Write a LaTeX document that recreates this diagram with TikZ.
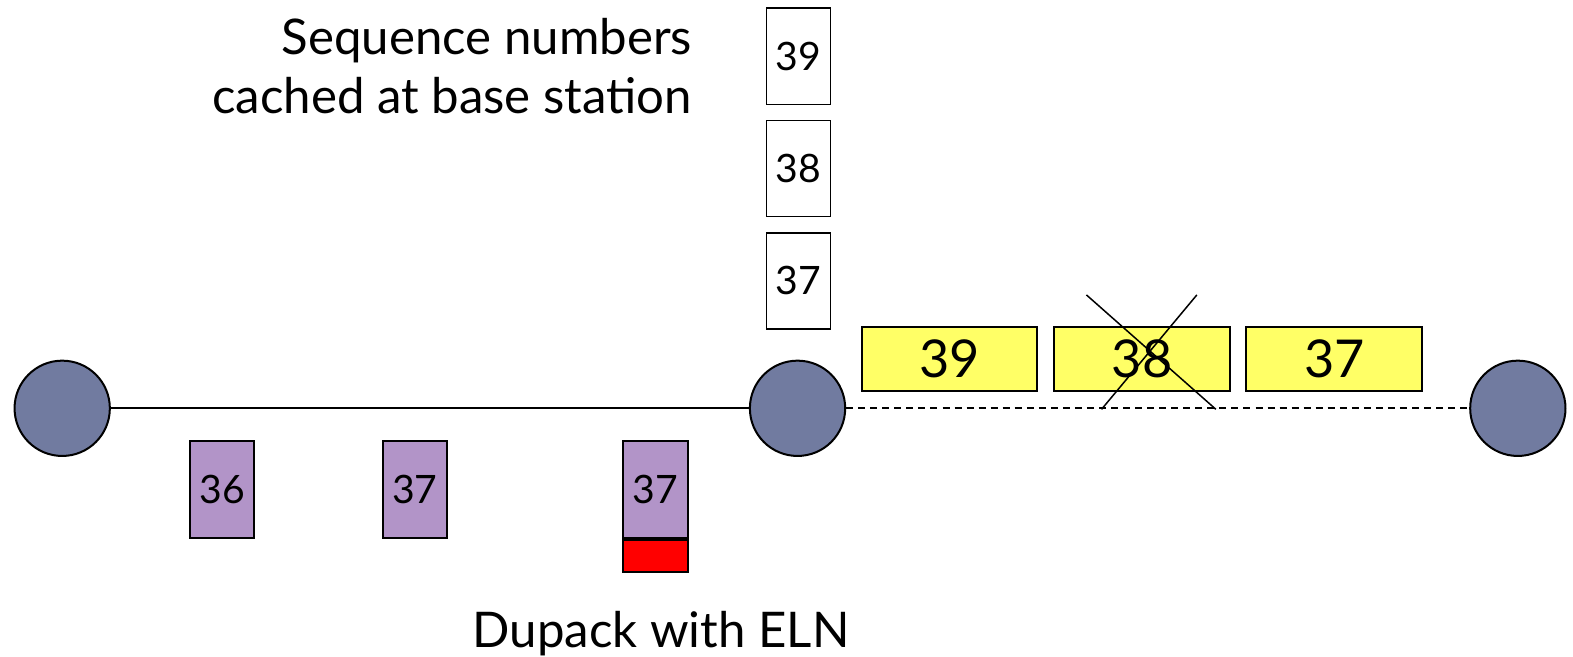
\documentclass[tikz,border=0pt]{standalone}
\usepackage{fontspec}
\setmainfont{Lato}
\begin{document}
\begin{tikzpicture}[x=1pt,y=-1pt,
  host/.style={circle,draw=black,line width=2pt,fill=hostblue,minimum size=95pt,inner sep=0pt},
  pkt/.style={draw=black,line width=2pt,fill=pktpurple,minimum width=64pt,minimum height=96pt,inner sep=0pt,font=\fontsize{39}{44}\selectfont},
  cache/.style={draw=black,line width=1.6pt,fill=white,minimum width=64pt,minimum height=96pt,inner sep=0pt,font=\fontsize{39}{44}\selectfont},
  data/.style={draw=black,line width=2pt,fill=dataylw,minimum width=175pt,minimum height=64pt,inner sep=0pt,font=\fontsize{52}{56}\selectfont},
  label/.style={font=\fontsize{49}{59}\selectfont,inner sep=0pt}]
\definecolor{hostblue}{RGB}{113,123,160}
\definecolor{pktpurple}{RGB}{178,148,200}
\definecolor{dataylw}{RGB}{255,255,102}
\useasboundingbox (0,0) rectangle (1568,654);
% hosts
\node[host] (L) at (62,407) {};
\node[host] (M) at (795,407) {};
\node[host] (R) at (1513,407) {};
\draw[line width=2pt] (L) -- (M);
\draw[line width=1.8pt,dash pattern=on 7pt off 5pt] (M) -- (R);
% cached sequence numbers
\node[cache] (c39) at (796,56) {39};
\node[cache] (c38) at (796,168) {38};
\node[cache] (c37) at (796,280) {37};
\node[label,align=right,anchor=north east] (cap) at (690,18) {Sequence numbers\\cached at base station};
% data packets
\node[data] (d39) at (946.5,358) {39};
\node[data] (d38) at (1138.5,358) {38};
\node[data] (d37) at (1330,358) {37};
\coordinate (x1a) at (1083,294);
\coordinate (x1b) at (1212,408);
\coordinate (x2a) at (1193,294);
\coordinate (x2b) at (1098,408);
\draw[line width=1.5pt] (x1a) -- (x1b);
\draw[line width=1.5pt] (x2a) -- (x2b);
% acks
\node[pkt] (a36) at (221.5,488) {36};
\node[pkt] (a37) at (413.5,488) {37};
\node[pkt] (a37b) at (653.5,488) {37};
\node[draw=black,line width=2pt,fill=red,minimum width=64pt,minimum height=32pt,inner sep=0pt,anchor=north] (eln) at (a37b.south) {};
\node[label,anchor=base] (dup) at (659,645) {Dupack with ELN};
\end{tikzpicture}
\end{document}
